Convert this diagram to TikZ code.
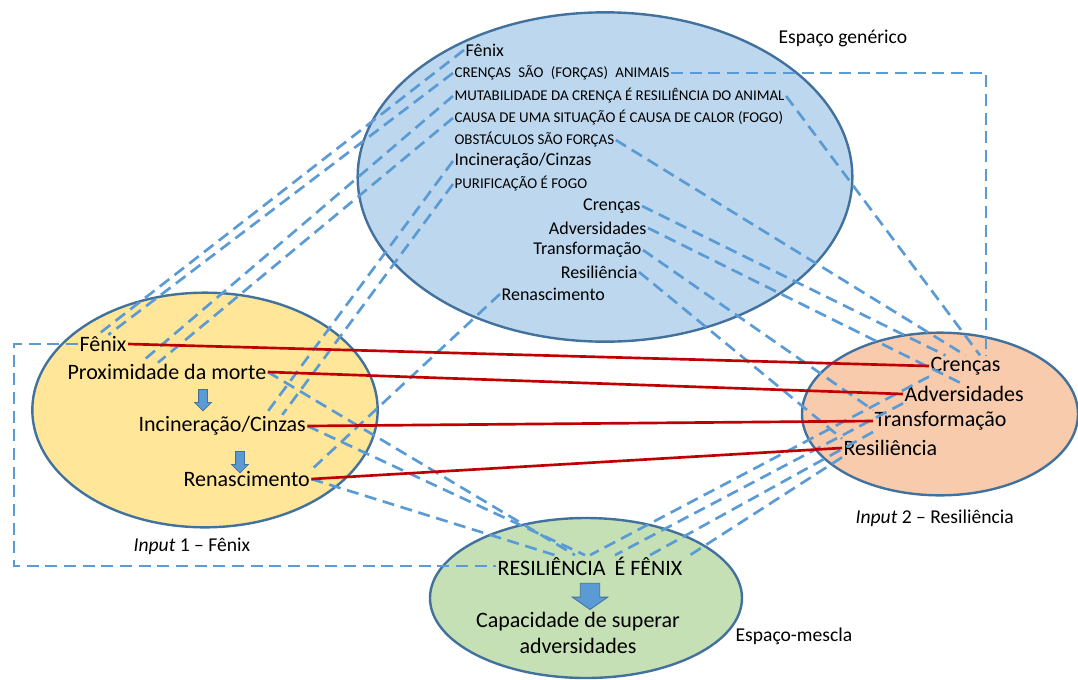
\documentclass[tikz,border=0pt]{standalone}
\usepackage{fontspec}
\setmainfont{Carlito}
\usetikzlibrary{shapes.geometric, shapes.arrows}

\definecolor{genblue}{HTML}{BDD7EE}
\definecolor{inyellow}{HTML}{FFE699}
\definecolor{inpeach}{HTML}{F8CBAD}
\definecolor{blendgreen}{HTML}{C5E0B4}
\definecolor{edgeblue}{HTML}{41719C}
\definecolor{linkblue}{HTML}{5B9BD5}
\definecolor{mapred}{HTML}{C00000}

\begin{document}
\begin{tikzpicture}[x=0.75pt, y=-0.75pt,
    ell/.style={draw=edgeblue, line width=1.8pt, ellipse, inner sep=0pt},
    gt/.style={inner sep=1pt, font=\fontsize{13.5}{15}\selectfont},
    gc/.style={inner sep=1pt, font=\fontsize{11.2}{13}\selectfont},
    bt/.style={inner sep=1pt, font=\fontsize{16.5}{19}\selectfont},
    lab/.style={inner sep=1pt, font=\fontsize{14.7}{17}\selectfont},
    dsh/.style={linkblue, line width=2pt, dash pattern=on 9pt off 5pt},
    rline/.style={mapred, line width=2pt},
    darr/.style={single arrow, shape border rotate=270, fill=linkblue,
      draw=edgeblue, line width=0.6pt, inner sep=3pt,
      single arrow head extend=3pt, minimum height=16pt}
  ]
  \useasboundingbox (0,0) rectangle (1078,679);

  % the four spaces
  \node[ell, fill=genblue, minimum width=371pt, minimum height=247pt] (gen) at (605,177) {};
  \node[ell, fill=inyellow, minimum width=259pt, minimum height=176pt] (in1) at (205,410) {};
  \node[ell, fill=inpeach, minimum width=207pt, minimum height=122pt] (in2) at (940,414) {};
  \node[ell, fill=blendgreen, minimum width=234pt, minimum height=120pt] (bl) at (586,598) {};

  % generic space
  \node[gt, anchor=west] (gF)  at (464,50)  {Fênix};
  \node[gc, anchor=west] (gCa) at (453,73)  {CRENÇAS\hspace{3pt} SÃO\hspace{3pt} (FORÇAS)\hspace{3pt} ANIMAIS};
  \node[gc, anchor=west] (gMu) at (453,96)  {MUTABILIDADE DA CRENÇA É RESILIÊNCIA DO ANIMAL};
  \node[gc, anchor=west] (gCc) at (453,118) {CAUSA DE UMA SITUAÇÃO É CAUSA DE CALOR (FOGO)};
  \node[gc, anchor=west] (gOb) at (453,140) {OBSTÁCULOS SÃO FORÇAS};
  \node[gt, anchor=west] (gIn) at (453,161) {Incineração/Cinzas};
  \node[gc, anchor=west] (gPu) at (453,184) {PURIFICAÇÃO É FOGO};
  \node[gt, anchor=east] (gCr) at (642,206) {Crenças};
  \node[gt, anchor=east] (gAd) at (648,228) {Adversidades};
  \node[gt, anchor=east] (gTr) at (643,250) {Transformação};
  \node[gt, anchor=east] (gRs) at (639,272) {Resiliência};
  \node[gt, anchor=west] (gRn) at (500,294) {Renascimento};

  % input 1
  \node[bt, anchor=west] (aF)  at (78,344)  {Fênix};
  \node[bt, anchor=west] (aPr) at (66,372)  {Proximidade da morte};
  \node[bt, anchor=west] (aIn) at (137,426) {Incineração/Cinzas};
  \node[bt, anchor=west] (aRn) at (182,479) {Renascimento};
  \node[darr] (ar1) at (203,398) {};
  \node[darr] (ar2) at (240,460) {};

  % input 2
  \node[bt, anchor=west] (bCr) at (929,366) {Crenças};
  \node[bt, anchor=west] (bAd) at (903,394) {Adversidades};
  \node[bt, anchor=west] (bTr) at (873,421) {Transformação};
  \node[bt, anchor=west] (bRs) at (842,448) {Resiliência};

  % blend
  \node[bt] (mRF) at (590,566) {RESILIÊNCIA\hspace{3pt} É FÊNIX};
  \node[darr, inner sep=7pt, single arrow head extend=6pt,
    single arrow tip angle=110, minimum height=18pt] (ar3) at (590,593) {};
  \node[bt, align=center] (mCap) at (578,633) {Capacidade de superar\\adversidades};

  % labels
  \node[lab, anchor=west] (lgen) at (777,38)  {Espaço genérico};
  \node[lab, anchor=west] (lin1) at (132,546) {\textit{Input} 1 – Fênix};
  \node[lab, anchor=west] (lin2) at (854,518) {\textit{Input} 2 – Resiliência};
  \node[lab, anchor=west] (lbl)  at (734,636) {Espaço-mescla};

  % generic -> input 1
  \draw[dsh] (gF.west) -- (aF.120);
  \draw[dsh] (gCa.west) -- (aF.60);
  \draw[dsh] (gMu.west) -- ([shift={(-26,0)}]aPr.north);
  \draw[dsh] (gCc.west) -- ([shift={(-9,0)}]aPr.north);
  \draw[dsh] (gIn.west) -- ([shift={(43,0)}]aIn.north);
  \draw[dsh] (gPu.west) -- ([shift={(60,0)}]aIn.north);
  \draw[dsh] (gRn.west) -- (aRn.north east);

  % generic -> input 2
  \draw[dsh] (gCa.east) -| ([shift={(-16,0)}]bCr.north east);
  \draw[dsh] (gMu.east) -- ([shift={(-22,0)}]bCr.north east);
  \draw[dsh] (gOb.east) -- (bCr.north);
  \draw[dsh] (gCr.east) -- ([shift={(-20,0)}]bCr.north);
  \draw[dsh] (gAd.east) -- (bAd.north);
  \draw[dsh] (gTr.east) -- (bTr.north west);
  \draw[dsh] (gRs.east) -- (bRs.north west);

  % inputs -> blend
  \draw[dsh] (aF.west) -- ++(-64,0) |- (mRF.west);
  \draw[dsh] (aPr.east) -- ([shift={(-15,0)}]mRF.north);
  \draw[dsh] (aIn.east) -- ([shift={(-5,0)}]mRF.north);
  \draw[dsh] (aRn.east) -- ([shift={(-35,0)}]mRF.north);
  \draw[dsh] (bCr.south west) -- (mRF.north);
  \draw[dsh] (bAd.south west) -- ([shift={(25,0)}]mRF.north);
  \draw[dsh] (bTr.south west) -- ([shift={(60,0)}]mRF.north);
  \draw[dsh] (bRs.south west) -- ([shift={(100,0)}]mRF.north);

  % cross-space mapping
  \draw[rline] (aF.east) -- (bCr.west);
  \draw[rline] (aPr.east) -- (bAd.west);
  \draw[rline] (aIn.east) -- (bTr.west);
  \draw[rline] (aRn.east) -- (bRs.west);
\end{tikzpicture}
\end{document}
